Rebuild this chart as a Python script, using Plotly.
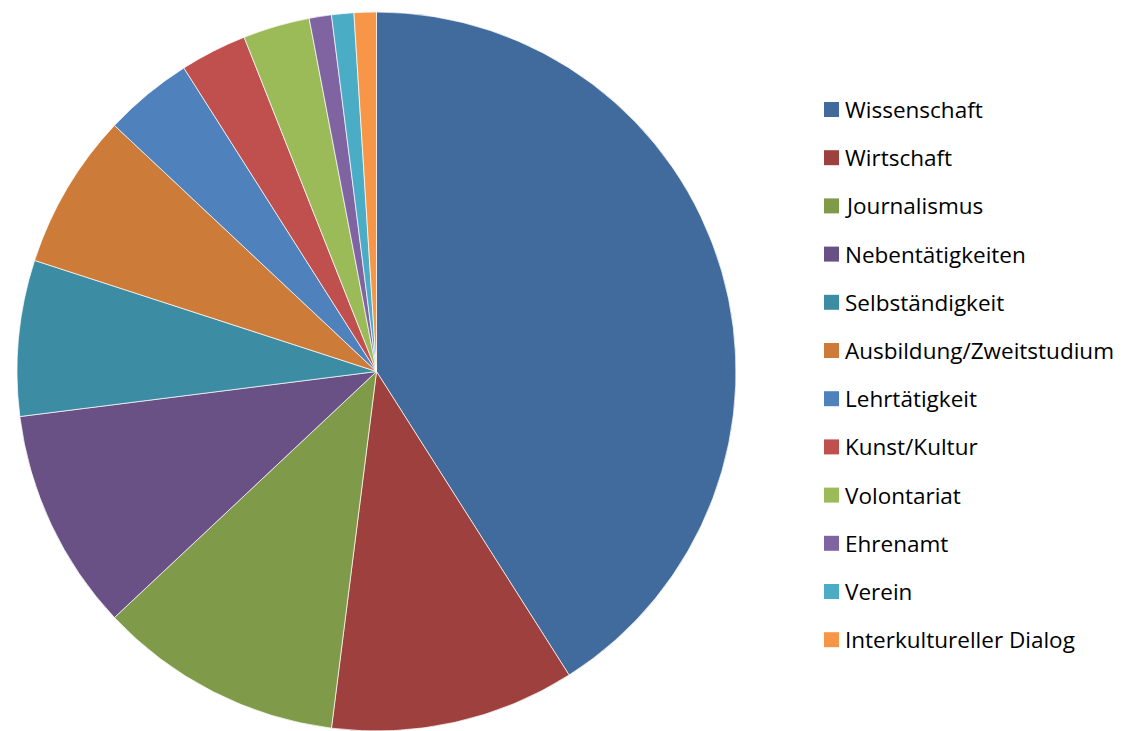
import plotly.graph_objects as go

labels = ["Wissenschaft", "Wirtschaft", "Journalismus", "Nebentätigkeiten", "Selbständigkeit",
          "Ausbildung/Zweitstudium", "Lehrtätigkeit", "Kunst/Kultur", "Volontariat",
          "Ehrenamt", "Verein", "Interkultureller Dialog"]
values = [41, 11, 11, 10, 7, 7, 4, 3, 3, 1, 1, 1]
colors = ["#416A9D", "#9E413E", "#7F9A48", "#695185", "#3C8DA3", "#CC7B38",
          "#4F81BD", "#C0504D", "#9BBB59", "#8064A2", "#4BACC6", "#F79646"]

# page body has an 8px margin; figure is sized to fill the remaining window
W, H = 1121, 723
OFF = 8

def px_x(x):
    return (x - OFF) / W

def px_y(y):
    return 1 - (y - OFF) / H

fig = go.Figure(go.Pie(
    labels=labels, values=values, sort=False, direction="clockwise", rotation=0,
    marker=dict(colors=colors, line=dict(color="rgba(255,255,255,0.7)", width=1)),
    textinfo="none", hoverinfo="label+value+percent", showlegend=False,
    domain=dict(x=[px_x(15), px_x(738)], y=[0, px_y(12)]),
))

# custom legend (Excel-style spacing)
shapes = []
annotations = []
y_first, step = 109.5, 48.2
for i, (lab, col) in enumerate(zip(labels, colors)):
    yc = y_first + i * step
    shapes.append(dict(type="rect", xref="paper", yref="paper",
                       x0=px_x(824), x1=px_x(839), y0=px_y(yc + 7.5), y1=px_y(yc - 7.5),
                       fillcolor=col, line=dict(width=0)))
    annotations.append(dict(text=lab, xref="paper", yref="paper", x=px_x(843), y=px_y(yc),
                            xanchor="left", yanchor="middle", showarrow=False,
                            font=dict(family="Open Sans", size=22.5, color="#000000")))

fig.update_layout(width=W, height=H, margin=dict(l=0, r=0, t=0, b=0),
                  paper_bgcolor="white", plot_bgcolor="white",
                  shapes=shapes, annotations=annotations)

fig.write_html("out.html")
